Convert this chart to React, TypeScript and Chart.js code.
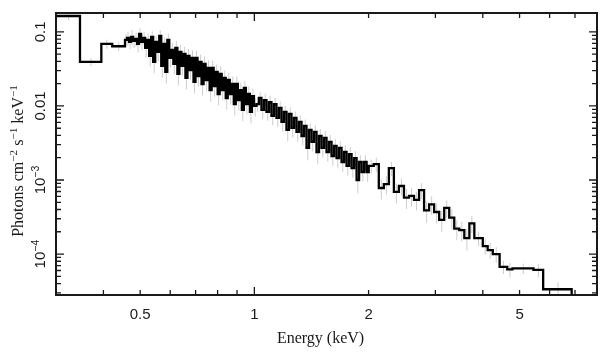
import React, { useEffect, useRef } from 'react';
import { Chart, registerables } from 'chart.js';

Chart.register(...registerables);

// Bin edges (keV): low edges of every bin, followed by the upper edge of the last bin
const energyEdges = [
  0.30, 0.347, 0.395, 0.422,
  0.456, 0.4616, 0.4673, 0.4730, 0.4788, 0.4847, 0.4907, 0.4967, 0.5028, 0.5090,
  0.5153, 0.5216, 0.5280, 0.5345, 0.5411, 0.5478, 0.5545, 0.5613, 0.5682, 0.5752,
  0.5823, 0.5895, 0.5967, 0.6041, 0.6115, 0.6190, 0.6267, 0.6344, 0.6422, 0.6501,
  0.6581, 0.6662, 0.6744, 0.6827, 0.6911, 0.6996, 0.7082, 0.7169, 0.7257, 0.7346,
  0.7437, 0.7528, 0.7621, 0.7715, 0.7810, 0.7906, 0.8003, 0.8101, 0.8201, 0.8302,
  0.8404, 0.8507, 0.8612, 0.8718, 0.8825, 0.8934, 0.9044, 0.9155, 0.9268, 0.9382,
  0.9497, 0.9614, 0.9732, 0.9852, 0.9973,
  1.0126, 1.0281, 1.0438, 1.0598, 1.0760, 1.0925, 1.1092, 1.1262, 1.1434, 1.1609,
  1.1787, 1.1967, 1.2150, 1.2336, 1.2525, 1.2717, 1.2912, 1.3110, 1.3311, 1.3515,
  1.3722, 1.3932, 1.4145, 1.4361, 1.4581, 1.4804, 1.5031, 1.5261, 1.5495, 1.5732,
  1.5973, 1.6218, 1.6466, 1.6718, 1.6974, 1.7234, 1.7498, 1.7766, 1.8038, 1.8314,
  1.8594, 1.8879, 1.9168, 1.9461, 1.9759,
  2.002, 2.064, 2.128, 2.194, 2.262, 2.332, 2.404, 2.479, 2.556, 2.635, 2.717, 2.801,
  2.888, 2.977, 3.070, 3.165, 3.263, 3.364, 3.468, 3.576, 3.687,
  3.80, 4.00, 4.12, 4.25, 4.43, 4.64, 4.79, 5.44, 5.77,
  6.86,
];

// Photons cm^-2 s^-1 keV^-1 in each bin
const flux = [
  0.164, 0.0394, 0.0689, 0.064,
  0.078, 0.083, 0.0733, 0.0855, 0.0756, 0.0804, 0.0689, 0.0939, 0.0733, 0.083,
  0.0608, 0.078, 0.0474, 0.0855, 0.0393, 0.0733, 0.0537, 0.0883, 0.0347, 0.0689,
  0.0288, 0.078, 0.0446, 0.0571, 0.037, 0.0608, 0.0271, 0.0537, 0.0347, 0.0505,
  0.0239, 0.0474, 0.0306, 0.0446, 0.0211, 0.0446, 0.0254, 0.0393, 0.0198, 0.037,
  0.0224, 0.0327, 0.0164, 0.0327, 0.0186, 0.0288, 0.0145, 0.0271, 0.0164, 0.0239,
  0.0128, 0.0224, 0.0145, 0.0198, 0.0106, 0.0198, 0.012, 0.0164, 0.00883, 0.0175,
  0.0106, 0.0145, 0.0083, 0.0136, 0.01,
  0.0106, 0.0128, 0.00883, 0.012, 0.0083, 0.0113, 0.00733, 0.0106, 0.00689, 0.00939,
  0.00608, 0.0083, 0.00474, 0.0078, 0.00505, 0.00689, 0.00446, 0.00608, 0.00393, 0.00537,
  0.00271, 0.00474, 0.00327, 0.00446, 0.00239, 0.00393, 0.00271, 0.0037, 0.00239, 0.00327,
  0.00211, 0.00288, 0.00198, 0.00271, 0.00175, 0.00239, 0.00155, 0.00224, 0.00145, 0.00198,
  0.001, 0.00175, 0.00128, 0.00175, 0.00128,
  0.00155, 0.00164, 0.00078, 0.00088, 0.00145, 0.00069, 0.00083, 0.00058, 0.00061, 0.00054, 0.00073, 0.00039,
  0.00047, 0.00037, 0.00029, 0.00042, 0.00031, 0.00022, 0.00021, 0.000164, 0.00026,
  0.000164, 0.000128, 0.000113, 0.0001, 0.000067, 0.000062, 0.000064, 0.000061, 0.0000335,
];

// Relative 1-sigma error of each bin
const relErr = [
  0.12, 0.12, 0.14, 0.14,
  0.2, 0.22, 0.2, 0.24, 0.2, 0.22, 0.24, 0.2, 0.22, 0.2,
  0.26, 0.22, 0.28, 0.2, 0.3, 0.22, 0.26, 0.2, 0.3, 0.22,
  0.3, 0.22, 0.26, 0.24, 0.28, 0.24, 0.3, 0.24, 0.26, 0.24,
  0.3, 0.24, 0.26, 0.26, 0.3, 0.24, 0.28, 0.26, 0.3, 0.26,
  0.28, 0.26, 0.3, 0.26, 0.28, 0.26, 0.3, 0.26, 0.28, 0.26,
  0.3, 0.26, 0.28, 0.26, 0.3, 0.26, 0.28, 0.26, 0.3, 0.26,
  0.28, 0.26, 0.3, 0.26, 0.28,
  0.22, 0.2, 0.24, 0.22, 0.24, 0.22, 0.25, 0.22, 0.24, 0.22,
  0.26, 0.22, 0.3, 0.22, 0.26, 0.22, 0.26, 0.22, 0.26, 0.22,
  0.32, 0.22, 0.26, 0.22, 0.32, 0.24, 0.26, 0.24, 0.26, 0.24,
  0.26, 0.24, 0.26, 0.24, 0.26, 0.24, 0.26, 0.24, 0.26, 0.24,
  0.34, 0.24, 0.26, 0.24, 0.26,
  0.22, 0.22, 0.3, 0.28, 0.22, 0.3, 0.26, 0.3, 0.28, 0.28, 0.24, 0.32,
  0.28, 0.3, 0.32, 0.26, 0.3, 0.3, 0.3, 0.32, 0.26,
  0.22, 0.24, 0.24, 0.24, 0.2, 0.22, 0.16, 0.2, 0.24,
];

const xRange = [0.3, 8];
const yRange = [2.8e-5, 0.18];
const xTickValues = [0.5, 1, 2, 5];
const xTickLabels = ['0.5', '1', '2', '5'];
const xMinorTicks = [0.4, 0.6, 0.7, 0.8, 0.9, 3, 4, 6, 7];
const yTickValues = [1e-4, 1e-3, 1e-2, 1e-1];
const yTickMantissa = ['10', '10', '0.01', '0.1'];
const yTickExponent = ['\u22124', '\u22123', '', ''];
const xTitle = 'Energy (keV)';
const yTitleParts = [
  { t: 'Photons cm', sup: false },
  { t: '\u22122', sup: true },
  { t: ' s', sup: false },
  { t: '\u22121', sup: true },
  { t: ' keV', sup: false },
  { t: '\u22121', sup: true },
];

const SANS = '"Liberation Sans", Arial, Helvetica, sans-serif';
const SERIF = '"Liberation Serif", "Times New Roman", Times, serif';
const INK = '#1a1a1a';

type Seg = { t: string; sup: boolean };

function drawRich(
  ctx: CanvasRenderingContext2D,
  segs: Seg[],
  x: number,
  y: number,
  rot: number,
  size: number,
  family: string,
) {
  const supSize = size * 0.7;
  ctx.save();
  ctx.translate(x, y);
  ctx.rotate(rot);
  ctx.textBaseline = 'alphabetic';
  ctx.textAlign = 'left';
  ctx.fillStyle = INK;
  let total = 0;
  const widths = segs.map((s) => {
    ctx.font = `${s.sup ? supSize : size}px ${family}`;
    const w = ctx.measureText(s.t).width;
    total += w;
    return w;
  });
  let cx = -total / 2;
  segs.forEach((s, i) => {
    ctx.font = `${s.sup ? supSize : size}px ${family}`;
    ctx.fillText(s.t, cx, s.sup ? -size * 0.4 : 0);
    cx += widths[i];
  });
  ctx.restore();
}

const framePlugin = {
  id: 'frameAndText',
  afterDraw(chart: any) {
    const { ctx, chartArea } = chart;
    const { left, right, top, bottom } = chartArea;
    const xs = chart.scales.x;
    const ys = chart.scales.y;
    ctx.save();
    ctx.strokeStyle = INK;
    ctx.lineWidth = 1.3;
    ctx.beginPath();
    [...xTickValues, ...xMinorTicks].forEach((v) => {
      const px = xs.getPixelForValue(v);
      const len = Math.abs(Math.log10(v) - Math.round(Math.log10(v))) < 1e-9 ? 8 : 5;
      ctx.moveTo(px, bottom);
      ctx.lineTo(px, bottom - len);
      ctx.moveTo(px, top);
      ctx.lineTo(px, top + len);
    });
    for (let d = -6; d <= 0; d++) {
      for (let m = 1; m <= 9; m++) {
        const v = m * Math.pow(10, d);
        if (v <= yRange[0] || v >= yRange[1]) continue;
        const py = ys.getPixelForValue(v);
        const len = m === 1 ? 8 : 5;
        ctx.moveTo(left, py);
        ctx.lineTo(left + len, py);
        ctx.moveTo(right, py);
        ctx.lineTo(right - len, py);
      }
    }
    ctx.stroke();
    ctx.lineWidth = 2;
    ctx.strokeRect(left, top, right - left, bottom - top);

    // y tick labels (rotated, with superscript exponents)
    yTickValues.forEach((v, i) => {
      const py = ys.getPixelForValue(v);
      const segs: Seg[] = [{ t: yTickMantissa[i], sup: false }];
      if (yTickExponent[i]) segs.push({ t: yTickExponent[i], sup: true });
      drawRich(ctx, segs, left - 11, py, -Math.PI / 2, 15, SANS);
    });

    // axis titles
    drawRich(ctx, yTitleParts, 23, (top + bottom) / 2 + 7, -Math.PI / 2, 16, SERIF);
    drawRich(ctx, [{ t: xTitle, sup: false }], (left + right) / 2 - 6, 343, 0, 16, SERIF);
    ctx.restore();
  },
};

export default function App() {
  const ref = useRef<HTMLCanvasElement | null>(null);

  useEffect(() => {
    if (!ref.current) return;
    const stepData: { x: number; y: number }[] = flux.map((f, i) => ({ x: energyEdges[i], y: f }));
    stepData.push({ x: energyEdges[energyEdges.length - 1], y: yRange[0] / 10 });

    const errData: { x: number; y: number | null }[] = [];
    flux.forEach((f, i) => {
      const c = (energyEdges[i] + energyEdges[i + 1]) / 2;
      errData.push({ x: c, y: f * (1 - relErr[i]) });
      errData.push({ x: c, y: f * (1 + relErr[i]) });
      errData.push({ x: c, y: null });
    });

    const chart = new Chart(ref.current, {
      type: 'line',
      data: {
        datasets: [
          {
            data: stepData,
            borderColor: '#000000',
            borderWidth: 2.3,
            stepped: 'before',
            pointRadius: 0,
            fill: false,
          },
          {
            data: errData as any,
            borderColor: '#cdcdcd',
            borderWidth: 1,
            pointRadius: 0,
            spanGaps: false,
            fill: false,
          },
        ],
      },
      options: {
        animation: false,
        responsive: false,
        events: [],
        layout: { padding: { left: 0, right: 11, top: 13, bottom: 0 } },
        plugins: { legend: { display: false }, tooltip: { enabled: false } },
        scales: {
          x: {
            type: 'logarithmic',
            min: xRange[0],
            max: xRange[1],
            position: 'bottom',
            grid: { display: false },
            border: { display: false },
            afterBuildTicks: (s: any) => {
              s.ticks = xTickValues.map((v) => ({ value: v }));
            },
            afterFit: (s: any) => {
              s.height = 62;
            },
            ticks: {
              autoSkip: false,
              maxRotation: 0,
              minRotation: 0,
              padding: 3,
              color: INK,
              font: { family: SANS, size: 15 },
              callback: (_v: any, i: number) => xTickLabels[i],
            },
          },
          y: {
            type: 'logarithmic',
            min: yRange[0],
            max: yRange[1],
            position: 'left',
            grid: { display: false },
            border: { display: false },
            afterBuildTicks: (s: any) => {
              s.ticks = yTickValues.map((v) => ({ value: v }));
            },
            afterFit: (s: any) => {
              s.width = 56;
            },
            ticks: { display: false },
          },
        },
      } as any,
      plugins: [framePlugin],
    });
    return () => chart.destroy();
  }, []);

  return (
    <div style={{ position: 'absolute', left: 0, top: 0, width: 608, height: 357, background: '#fff' }}>
      <canvas ref={ref} width={608} height={357} style={{ display: 'block' }} />
    </div>
  );
}
